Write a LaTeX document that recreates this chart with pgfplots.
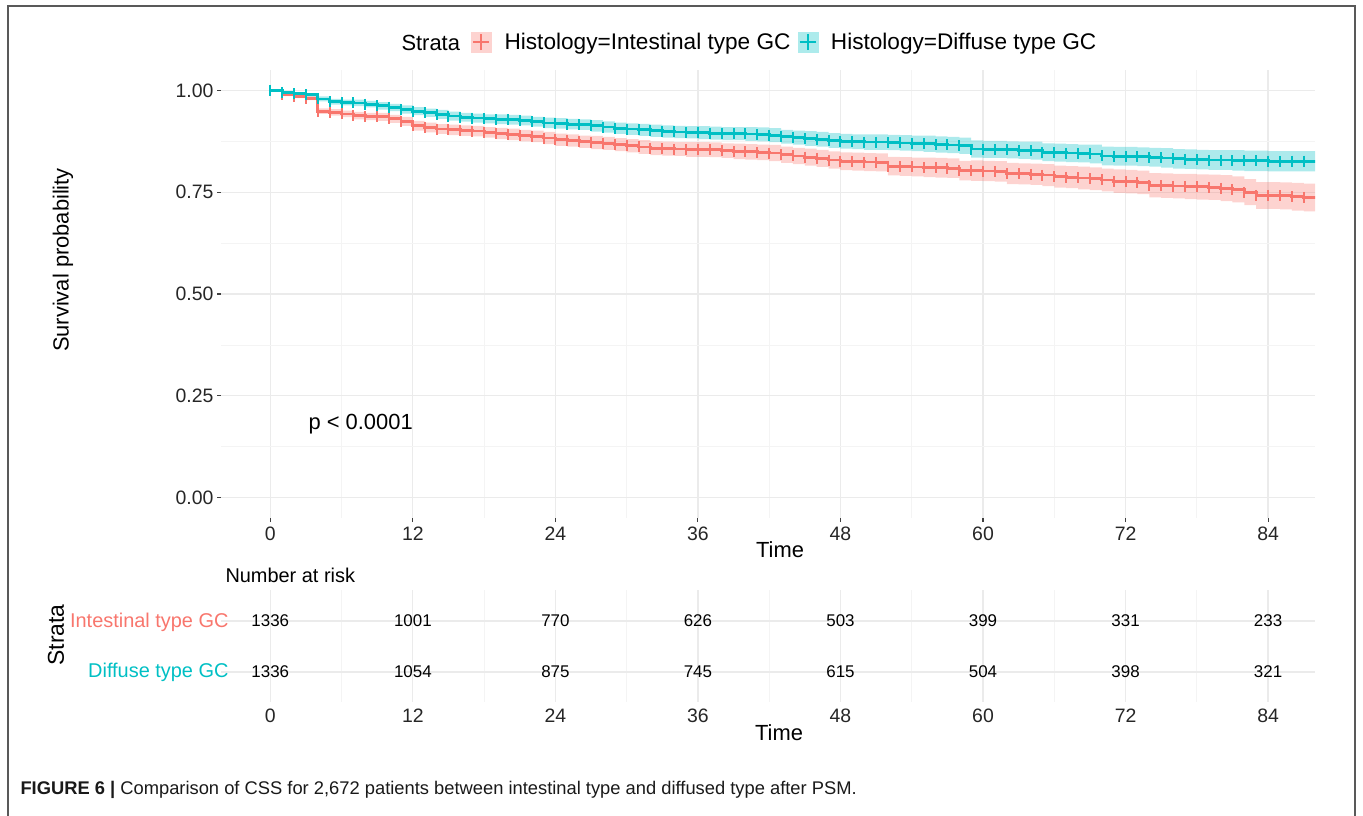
\documentclass[border=0pt]{standalone}
\usepackage{fontspec}
\setmainfont{Liberation Sans}
\usepackage{pgfplots}
\usepackage{pgfplotstable}
\pgfplotsset{compat=1.18}
\usepgfplotslibrary{fillbetween}

\definecolor{kmred}{HTML}{F8766D}
\definecolor{kmteal}{HTML}{00BFC4}
\definecolor{gridmaj}{HTML}{EBEBEB}
\definecolor{gridmin}{HTML}{F4F4F4}

% t = month, s = survival, lo/hi = 95% CI
\pgfplotstableread{
t s lo hi
0 1.000 1.000 1.000
1 .989 .986 .992
2 .985 .981 .989
3 .981 .976 .986
4 .949 .942 .956
5 .946 .938 .954
6 .942 .934 .950
7 .938 .929 .947
8 .936 .927 .945
9 .935 .925 .945
10 .930 .920 .940
11 .924 .913 .935
12 .913 .901 .925
13 .909 .897 .921
14 .905 .893 .917
15 .903 .890 .916
16 .901 .888 .914
17 .900 .887 .913
18 .897 .884 .910
19 .894 .880 .908
20 .892 .878 .906
21 .889 .875 .903
22 .887 .873 .901
23 .883 .868 .898
24 .879 .864 .894
25 .877 .862 .892
26 .874 .859 .889
27 .872 .856 .888
28 .870 .854 .886
29 .867 .851 .883
30 .864 .848 .880
31 .861 .844 .878
32 .858 .841 .875
33 .857 .840 .874
34 .856 .839 .873
35 .855 .837 .873
36 .855 .837 .873
37 .854 .836 .872
38 .852 .834 .870
39 .850 .831 .869
40 .849 .830 .868
41 .848 .829 .867
42 .846 .826 .866
43 .842 .822 .862
44 .839 .819 .859
45 .836 .815 .857
46 .833 .812 .854
47 .829 .808 .850
48 .826 .804 .848
49 .825 .803 .847
50 .824 .802 .846
51 .823 .801 .845
52 .814 .791 .837
53 .813 .790 .836
54 .812 .789 .835
55 .811 .787 .835
56 .810 .786 .834
57 .809 .785 .833
58 .803 .779 .827
59 .803 .778 .828
60 .802 .777 .827
61 .801 .776 .826
62 .796 .770 .822
63 .795 .769 .821
64 .794 .768 .820
65 .792 .765 .819
66 .788 .761 .815
67 .787 .760 .814
68 .785 .757 .813
69 .783 .755 .811
70 .780 .752 .808
71 .777 .748 .806
72 .776 .747 .805
73 .774 .745 .803
74 .767 .737 .797
75 .766 .736 .796
76 .765 .735 .795
77 .764 .733 .795
78 .763 .732 .794
79 .762 .731 .793
80 .760 .728 .792
81 .757 .725 .789
82 .750 .718 .782
83 .742 .709 .775
84 .742 .709 .775
85 .741 .708 .774
86 .739 .705 .773
87 .737 .703 .771
88 .735 .701 .769
}\intestinal

\pgfplotstableread{
t s lo hi
0 1.000 1.000 1.000
1 .995 .993 .997
2 .992 .989 .995
3 .989 .985 .993
4 .979 .973 .985
5 .972 .965 .979
6 .970 .963 .977
7 .969 .961 .977
8 .966 .958 .974
9 .962 .953 .971
10 .958 .949 .967
11 .953 .943 .963
12 .949 .939 .959
13 .945 .935 .955
14 .941 .930 .952
15 .937 .926 .948
16 .934 .923 .945
17 .932 .921 .943
18 .930 .919 .941
19 .929 .917 .941
20 .928 .916 .940
21 .926 .914 .938
22 .923 .911 .935
23 .920 .907 .933
24 .919 .906 .932
25 .917 .904 .930
26 .916 .903 .929
27 .913 .899 .927
28 .910 .896 .924
29 .907 .893 .921
30 .905 .891 .919
31 .903 .888 .918
32 .901 .886 .916
33 .899 .884 .914
34 .898 .883 .913
35 .897 .882 .912
36 .896 .880 .912
37 .895 .879 .911
38 .894 .878 .910
39 .894 .878 .910
40 .893 .876 .910
41 .892 .875 .909
42 .890 .873 .907
43 .886 .869 .903
44 .884 .867 .901
45 .882 .864 .900
46 .880 .862 .898
47 .877 .859 .895
48 .875 .857 .893
49 .874 .856 .892
50 .873 .854 .892
51 .873 .854 .892
52 .872 .853 .891
53 .871 .852 .890
54 .870 .851 .889
55 .869 .849 .889
56 .867 .847 .887
57 .866 .846 .886
58 .864 .844 .884
59 .856 .835 .877
60 .855 .834 .876
61 .855 .834 .876
62 .854 .833 .875
63 .853 .832 .874
64 .852 .830 .874
65 .848 .826 .870
66 .847 .825 .869
67 .846 .824 .868
68 .845 .823 .867
69 .844 .821 .867
70 .839 .816 .862
71 .838 .815 .861
72 .838 .815 .861
73 .837 .814 .860
74 .836 .813 .859
75 .834 .810 .858
76 .832 .808 .856
77 .831 .807 .855
78 .830 .806 .854
79 .829 .805 .853
80 .829 .805 .853
81 .828 .803 .853
82 .827 .802 .852
83 .827 .802 .852
84 .826 .801 .851
85 .826 .801 .851
86 .826 .801 .851
87 .826 .801 .851
88 .826 .801 .851
}\diffuse

% number at risk, row 2 = intestinal, row 1 = diffuse
\pgfplotstableread{
t r n
0 2 1336
12 2 1001
24 2 770
36 2 626
48 2 503
60 2 399
72 2 331
84 2 233
0 1 1336
12 1 1054
24 1 875
36 1 745
48 1 615
60 1 504
72 1 398
84 1 321
}\atrisk

\pgfplotsset{
  kmbase/.style={
    scale only axis, width=1094bp,
    xmin=-4.15, xmax=87.95,
    xtick={0,12,...,84}, xticklabels={0,12,24,36,48,60,72,84},
    minor x tick num=1,
    grid=both,
    major grid style={draw=gridmaj, line width=1.3bp},
    minor grid style={draw=gridmin, line width=0.7bp},
    axis line style={draw=none},
    minor tick length=0pt,
    tick label style={font=\fontsize{19.5}{19.5}\selectfont, text=black!85},
    /pgf/number format/assume math mode=true,
  }
}

\begin{document}
\begin{tikzpicture}
\path (0,0) rectangle (1363bp,-816bp);

% frame
\draw[black!65, line width=2bp] (7.5bp,-816bp) -- (7.5bp,-6bp) -- (1355bp,-6bp) -- (1355bp,-816bp);

\begin{axis}[kmbase,
  at={(221bp,-518bp)}, anchor=south west, height=448bp,
  ymin=-0.05, ymax=1.05,
  ytick={0,0.25,0.5,0.75,1}, yticklabels={0.00,0.25,0.50,0.75,1.00},
  minor y tick num=1,
  tick align=outside, xtick pos=left, ytick pos=left,
  major tick length=4bp,
  tick style={black!75, line width=1.1bp},
  xticklabel style={yshift=-1bp},
  legend columns=-1,
  legend style={draw=none, fill=none, at={(0.2285,1.0625)}, anchor=west,
    font=\fontsize{22.7}{22.7}\selectfont, inner xsep=0pt,
    /tikz/every odd column/.append style={column sep=11bp},
    /tikz/every even column/.append style={column sep=5bp}},
]
\addplot[name path=ilo, const plot, draw=none, forget plot] table[x=t,y=lo]{\intestinal};
\addplot[name path=ihi, const plot, draw=none, forget plot] table[x=t,y=hi]{\intestinal};
\addplot[kmred, fill opacity=0.32, draw=none, forget plot] fill between[of=ilo and ihi];
\addplot[name path=dlo, const plot, draw=none, forget plot] table[x=t,y=lo]{\diffuse};
\addplot[name path=dhi, const plot, draw=none, forget plot] table[x=t,y=hi]{\diffuse};
\addplot[kmteal, fill opacity=0.32, draw=none, forget plot] fill between[of=dlo and dhi];

\addplot[kmred, line width=2.8bp, const plot, mark=|, mark size=5.5bp,
  mark options={line width=2bp}, forget plot] table[x=t,y=s]{\intestinal};
\addplot[kmteal, line width=2.8bp, const plot, mark=|, mark size=5.5bp,
  mark options={line width=2bp}, forget plot] table[x=t,y=s]{\diffuse};

\addlegendimage{legend image code/.code={
  \fill[kmred!32!white] (0bp,-10bp) rectangle (20bp,10bp);
  \draw[kmred, line width=2bp] (2bp,0bp) -- (18bp,0bp) (10bp,-8bp) -- (10bp,8bp);}}
\addlegendentry{Histology=Intestinal type GC}
\addlegendimage{legend image code/.code={
  \fill[kmteal!32!white] (0bp,-10bp) rectangle (20bp,10bp);
  \draw[kmteal, line width=2bp] (2bp,0bp) -- (18bp,0bp) (10bp,-8bp) -- (10bp,8bp);}}
\addlegendentry{Histology=Diffuse type GC}
\end{axis}

\node[anchor=base west, font=\fontsize{22}{22}\selectfont] at (398bp,-50bp) {Strata};
\node[anchor=base west, font=\fontsize{22}{22}\selectfont] at (305bp,-429bp) {p < 0.0001};
\node[rotate=90, font=\fontsize{22}{22}\selectfont] at (63bp,-260bp) {Survival probability};
\node[anchor=base, font=\fontsize{22}{22}\selectfont] at (780bp,-557bp) {Time};

% risk table
\node[anchor=base west, font=\fontsize{20}{20}\selectfont] at (222bp,-582bp) {Number at risk};
\begin{axis}[kmbase,
  at={(221bp,-702bp)}, anchor=south west, height=112bp,
  ymin=0.41, ymax=2.61,
  ytick={1,2}, yticklabels={},
  major tick length=0pt,
  xticklabel style={yshift=-3bp},
]
\addplot[draw=none, mark=none, nodes near coords, point meta=explicit symbolic,
  every node near coord/.append style={anchor=center, font=\fontsize{17}{17}\selectfont, text=black}]
  table[x=t,y=r,meta=n]{\atrisk};
\end{axis}
\node[anchor=base east, text=kmred, font=\fontsize{20}{20}\selectfont] at (232bp,-627bp) {Intestinal type GC};
\node[anchor=base east, text=kmteal, font=\fontsize{20}{20}\selectfont] at (232bp,-677bp) {Diffuse type GC};
\node[rotate=90, font=\fontsize{23}{23}\selectfont] at (56bp,-635bp) {Strata};
\node[anchor=base, font=\fontsize{22}{22}\selectfont] at (779bp,-740bp) {Time};

% caption
\node[anchor=base west, font=\fontsize{18.4}{18.4}\selectfont, text=black!90] at (17bp,-794bp)
  {\textbf{FIGURE 6 |} Comparison of CSS for 2,672 patients between intestinal type and diffused type after PSM.};

\pgfresetboundingbox
\path[use as bounding box] (0,0) rectangle (1363bp,-816bp);
\end{tikzpicture}
\end{document}
